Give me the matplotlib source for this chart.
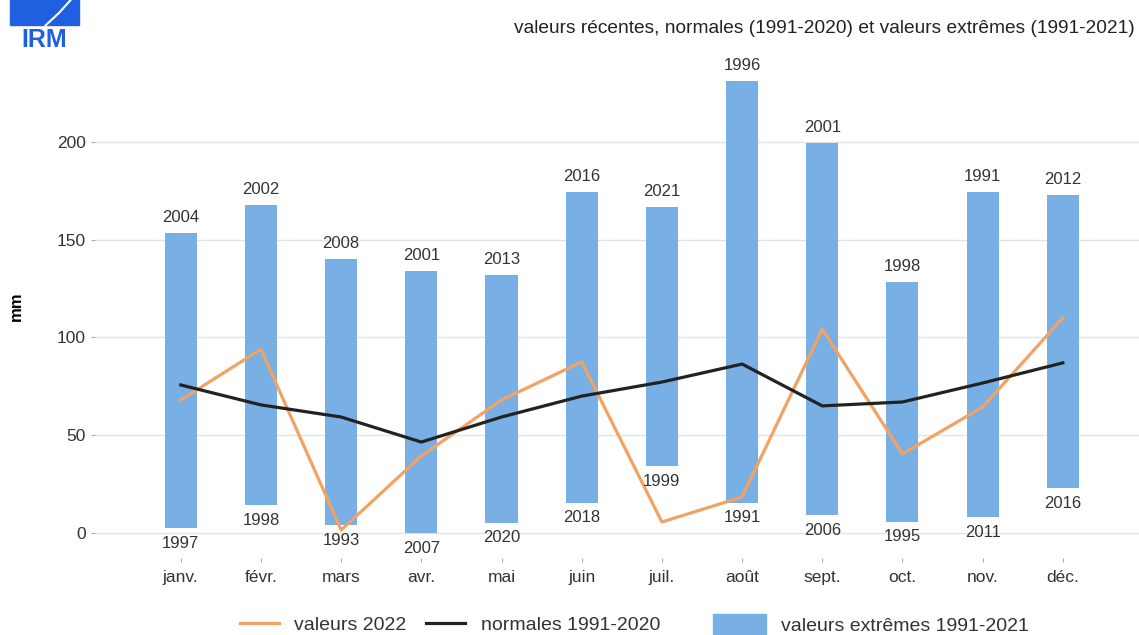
import matplotlib.pyplot as plt
import matplotlib.patches as mpatches
from matplotlib.lines import Line2D
import numpy as np

plt.rcParams['font.family'] = ['Liberation Sans', 'DejaVu Sans']

months = ["janv.", "févr.", "mars", "avr.", "mai", "juin", "juil.", "août",
          "sept.", "oct.", "nov.", "déc."]
ext_max = [153.5, 167.8, 140.2, 134.0, 132.0, 174.4, 166.8, 231.2, 199.5, 128.4, 174.4, 172.9]
ext_min = [2.6, 14.3, 4.0, 0.0, 5.3, 15.5, 34.3, 15.5, 9.2, 5.8, 8.3, 22.9]
year_max = ["2004", "2002", "2008", "2001", "2013", "2016", "2021", "1996", "2001", "1998", "1991", "2012"]
year_min = ["1997", "1998", "1993", "2007", "2020", "2018", "1999", "1991", "2006", "1995", "2011", "2016"]
normales = [75.7, 65.5, 59.3, 46.5, 59.3, 70.0, 77.2, 86.4, 65.0, 67.0, 76.7, 87.0]
val_2022 = [68.0, 94.0, 1.5, 39.4, 68.0, 87.5, 5.6, 18.4, 104.3, 40.4, 64.4, 110.0]

c_bar = "#78b0e6"
c_orange = "#f0a364"
c_black = "#222222"
c_text = "#333333"

fig = plt.figure(figsize=(11.39, 6.35), dpi=100)
ax = fig.add_axes([0.0834, 0.1213, 0.9166, 0.7921])

x = np.arange(len(months))
heights = np.array(ext_max) - np.array(ext_min)
ax.bar(x, heights, bottom=ext_min, width=0.4, color=c_bar, zorder=2)
ax.plot(x, val_2022, color=c_orange, lw=2.3, zorder=3)
ax.plot(x, normales, color=c_black, lw=2.3, zorder=4)

for xi, hi, lo, yh, yl in zip(x, ext_max, ext_min, year_max, year_min):
    ax.text(xi, hi + 4, yh, ha="center", va="bottom", fontsize=12, color=c_text, zorder=5)
    ax.text(xi, lo - 4, yl, ha="center", va="top", fontsize=12, color=c_text, zorder=5)

ax.set_xlim(-1.07, 11.95)
ax.set_ylim(-12.8, 244.5)
ax.set_yticks([0, 50, 100, 150, 200])
ax.set_xticks(x)
ax.set_xticklabels(months)
ax.tick_params(axis="both", labelsize=12.5, colors="#aaaaaa", labelcolor=c_text, length=3, width=0.8)
ax.tick_params(axis="x", pad=6)
ax.grid(axis="y", color="#e3e3e3", lw=1, zorder=0)
for s in ax.spines.values():
    s.set_visible(False)
ax.set_ylabel("mm", fontsize=12, fontweight="bold")
ax.yaxis.set_label_coords(-0.068, 0.5)

fig.text(0.996, 0.955, "valeurs récentes, normales (1991-2020) et valeurs extrêmes (1991-2021)",
         ha="right", va="center", fontsize=13.8, color="#222222")

# IRM logo
fig.patches.append(mpatches.Rectangle((0.009, 0.96), 0.06, 0.04, transform=fig.transFigure,
                                      color="#1f5fe0", zorder=1))
fig.lines.append(Line2D([0.040, 0.052, 0.062], [0.96, 0.98, 1.0], transform=fig.transFigure,
                        color="white", lw=1.5))
fig.text(0.039, 0.937, "IRM", ha="center", va="center", fontsize=18, fontweight="bold",
         color="#1f5fe0")

h_lines = [Line2D([], [], color=c_orange, lw=2.3), Line2D([], [], color=c_black, lw=2.3)]
fig.legend(h_lines, ["valeurs 2022", "normales 1991-2020"], loc="center", ncol=2,
           bbox_to_anchor=(0.395, 0.016), frameon=False, fontsize=14, handlelength=2.0,
           columnspacing=1.0, labelcolor=c_text, borderpad=0)
fig.legend([mpatches.Patch(color=c_bar)], ["valeurs extrêmes 1991-2021"], loc="center",
           bbox_to_anchor=(0.765, 0.016), frameon=False, fontsize=14, handlelength=2.7,
           handleheight=1.3, labelcolor=c_text, borderpad=0)

fig.savefig("out.png", dpi=100)
